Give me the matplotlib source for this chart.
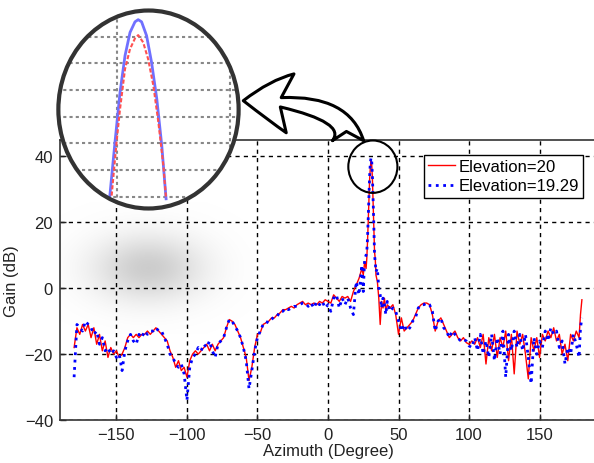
import numpy as np
import matplotlib
matplotlib.use('Agg')
import matplotlib.pyplot as plt
from matplotlib.patches import Ellipse, FancyArrowPatch, ArrowStyle

plt.rcParams['font.family'] = ['Liberation Sans', 'DejaVu Sans']

# main pattern cut
azimuth = [-180, -178, -176, -174, -172, -170, -168, -166, -164, -162, -160, -158, -156, -154,
           -152, -150, -148, -146, -144, -142, -140, -138, -136, -134, -132, -130, -128, -126,
           -124, -122, -120, -118, -116, -114, -112, -110, -108, -106, -104, -102, -100, -98,
           -96, -94, -92, -90, -88, -86, -84, -82, -80, -78, -76, -74, -72, -70, -68, -66,
           -64, -62, -60, -58, -56, -54, -52, -50, -48, -46, -44, -42, -40, -38, -36, -34,
           -32, -30, -28, -26, -24, -22, -20, -18, -16, -14, -12, -10, -8, -6, -4, -2,
           0, 2, 4, 6, 8, 10, 12, 14, 16, 18, 20, 22, 24, 25, 26, 27, 27.5, 28, 28.5,
           29, 29.5, 30, 30.5, 31, 31.5, 32, 32.5, 33, 33.5, 34, 35, 36, 37, 38, 39, 40,
           41, 42, 44, 46, 48, 50, 52, 54, 56, 58, 60, 62, 64, 66, 68, 70, 72, 74, 76, 78,
           80, 82, 84, 86, 88, 90, 92, 94, 96, 98, 100, 102, 104, 106, 108, 110, 112, 114,
           116, 118, 120, 122, 124, 126, 128, 130, 132, 134, 136, 138, 140, 142, 144, 146,
           148, 150, 152, 154, 156, 158, 160, 162, 164, 166, 168, 170, 172, 174, 176, 178,
           179, 180]

gain_el20 = [-18, -12, -14, -11, -13, -11, -15, -12, -17, -14, -19, -16, -21, -18,
             -20, -19, -21, -20, -18, -15, -14, -15, -14, -15, -14, -14, -13, -14,
             -13, -12, -13, -14, -15, -16, -19, -21, -24, -22, -25, -24, -27, -22,
             -20, -19, -20, -19, -18, -17, -19, -17, -19, -17, -16, -15, -12, -9.5, -10, -11,
             -13, -15, -18, -21, -28, -24, -18, -14, -13.5, -11, -10.5, -10, -9, -9, -8, -7.5,
             -6.5, -6.5, -6, -5.5, -6, -5, -4.5, -4, -5, -4.5, -5, -4.5, -5, -4, -4.5, -3.5,
             -4, -4.5, -2, -3, -4, -2.5, -3, -2.5, -4, -1, 1, 3, 6, 4, 8, 6, 9, 14, 20,
             27, 33, 36.5, 38.9, 37.5, 33, 26, 18, 11, 9, 4, 2, -3, -11, -4, -6, -3,
             -7, -5, -6, -5, -8, -14, -9, -13, -12, -11, -10, -8, -6, -5, -4.5, -4.5, -5, -8, -13, -10,
             -9, -11, -13, -15, -14, -13, -15, -16, -15, -16.5, -17, -16, -17, -15, -18, -14, -23, -15,
             -19, -14, -21, -15, -18, -13, -22, -14, -26, -13, -17, -14, -20, -27.5, -15, -19,
             -15, -21, -14, -16, -13, -15, -12, -16, -14, -20, -17, -22, -14, -16, -13, -15,
             -8, -3.5]

gain_el1929 = [-27, -11, -12, -13, -10, -11, -12, -14, -13, -17, -15, -19, -18, -20,
               -19, -21, -20, -25, -19, -16, -14, -16, -17, -14, -15, -13, -14, -13,
               -13, -12, -13, -13, -15, -17, -20, -21, -23, -24, -23, -26, -34, -24,
               -21, -20, -18, -19, -17, -18, -16, -19, -21, -17, -16, -15, -12, -9.5, -10, -11.5,
               -13, -15, -18, -22, -30.5, -25, -19, -15, -13, -11, -11, -9.5, -9.5, -8.5, -8.5, -7,
               -7, -6, -6.5, -6, -5.5, -5.5, -5, -4.5, -4.5, -5.5, -4.5, -6, -4, -5, -4, -6,
               -5, -7, -3, -2, -6, -3, -5, -3, -6, -8, 2, -2, 7, -1, 9, 10, 11, 15, 21,
               28, 34, 38, 39.6, 38.5, 34, 27, 19, 10, 8, 5, 6, 0, -2, -6, -3, -5,
               -8, -4, -7, -6, -7, -10, -13, -11, -13, -12, -10, -9, -6, -5, -5, -4.5, -5, -7, -13, -10,
               -9, -12, -13, -15, -13, -14, -15, -16, -15.5, -16, -17.5, -18, -15, -19, -14, -20, -16, -21,
               -14, -22, -15, -20, -13, -27, -14, -19, -13, -18, -14, -19, -14, -21, -29, -15,
               -20, -16, -18, -13, -16, -12, -14, -13, -18, -16, -23, -18, -20, -14, -17, -21,
               -12, -9]

# magnified main lobe shown in the circle
zoom_az_blue = [29.970, 29.993, 30.015, 30.037, 30.059, 30.081, 30.095, 30.110, 30.132,
                30.154, 30.177, 30.199, 30.218]
zoom_gain_blue = [33.04, 35.07, 36.92, 38.29, 39.16, 39.56, 39.64, 39.56, 39.04,
                  38.04, 36.67, 34.92, 32.92]
zoom_az_red = [29.978, 30.000, 30.015, 30.037, 30.059, 30.081, 30.095, 30.117, 30.139,
               30.162, 30.184, 30.206, 30.218]
zoom_gain_red = [33.04, 35.07, 36.29, 37.79, 38.54, 38.94, 39.06, 38.79, 38.16,
                 37.16, 35.79, 34.17, 32.92]

W, H = 594, 464
fig = plt.figure(figsize=(W / 100, H / 100), dpi=100)
ax = fig.add_axes([60 / W, 1 - 421 / H, (596 - 60) / W, (421 - 141) / H])

# soft grey shadow on the left
gx, gy = np.meshgrid(np.linspace(-1, 1, 200), np.linspace(-1, 1, 100))
shade = np.exp(-4.0 * (gx ** 2 + gy ** 2))
img = np.zeros((100, 200, 4))
img[..., :3] = 0.72
img[..., 3] = 0.7 * shade
ax.imshow(img, extent=(-205, -50, -14, 26), aspect='auto', zorder=0, interpolation='bilinear')

ax.plot(azimuth, gain_el20, color='red', lw=1.0, label='Elevation=20', zorder=3)
ax.plot(azimuth, gain_el1929, color='blue', lw=2.0, ls=':', label='Elevation=19.29', zorder=3)

ax.set_xlim(-190, 190)
ax.set_ylim(-40, 45)
ax.set_xticks([-150, -100, -50, 0, 50, 100, 150])
ax.set_yticks([-40, -20, 0, 20, 40])
ax.grid(True, color='black', ls=(0, (3, 3)), lw=1.0)
ax.tick_params(direction='in', length=4, width=1, labelsize=12, colors='#222', pad=5)
ax.spines['right'].set_visible(False)
for s in ['left', 'top', 'bottom']:
    ax.spines[s].set_color('#333')
    ax.spines[s].set_linewidth(1.2)
ax.set_xlabel('Azimuth (Degree)', fontsize=12, color='#222', labelpad=1)
ax.set_ylabel('Gain (dB)', fontsize=12, color='#222', labelpad=4)

leg = ax.legend(loc='upper left', bbox_to_anchor=(424 / W, 1 - 156 / H),
                bbox_transform=fig.transFigure, fancybox=False, framealpha=1,
                edgecolor='black', fontsize=12, borderpad=0.25, handlelength=1.6,
                handletextpad=0.2, labelspacing=0.25, borderaxespad=0)
leg.get_frame().set_linewidth(1.0)

# small circle around the peak
ax.add_patch(Ellipse((31.8, 36.9), 34.8, 15.9, fill=False, ec='black', lw=1.5,
                     clip_on=False, zorder=5))

# magnifier inset
axi = fig.add_axes([57 / W, 1 - 211 / H, 183 / W, 201 / H])
axi.set_xlim(29.737, 30.544)
axi.set_ylim(32.5, 40.04)
axi.axis('off')
disk = Ellipse((0.5, 0.5), 1, 1, transform=axi.transAxes, fc='white', ec='none', zorder=0)
axi.add_patch(disk)
for yv in [33, 34, 35, 36, 37, 38, 39]:
    ln = axi.axhline(yv, color='#888', ls=(0, (1.5, 1.5)), lw=1.5, zorder=1)
    ln.set_clip_path(disk)
for xv in [30.0, 30.5]:
    ln = axi.axvline(xv, color='#888', ls=(0, (1.5, 1.5)), lw=1.5, zorder=1)
    ln.set_clip_path(disk)
lb, = axi.plot(zoom_az_blue, zoom_gain_blue, color='#7070ff', lw=2.0, zorder=2)
lr, = axi.plot(zoom_az_red, zoom_gain_red, color='#ff5050', lw=1.5, ls=(0, (2, 1)), zorder=3)
lb.set_clip_path(disk)
lr.set_clip_path(disk)
axi.add_patch(Ellipse((0.5, 0.5), 0.985, 0.985, transform=axi.transAxes, fill=False,
                      ec='#333', lw=3, clip_on=False, zorder=4))

# curved hollow arrow
arrow = FancyArrowPatch((348 / W, 322.3 / H), (243.3 / W, 362.3 / H),
                        transform=fig.transFigure,
                        arrowstyle=ArrowStyle.Fancy(head_length=0.75, head_width=0.95, tail_width=0.5),
                        connectionstyle='angle3,angleA=90,angleB=0', mutation_scale=45,
                        fc='white', ec='black', lw=2.2, shrinkA=0, shrinkB=0)
fig.patches.append(arrow)

fig.savefig('out.png', dpi=100)
